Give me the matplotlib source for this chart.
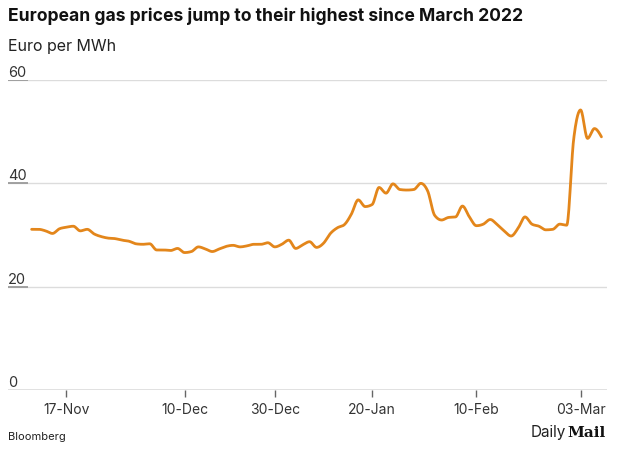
import numpy as np
import pandas as pd
import matplotlib
matplotlib.use("Agg")
import matplotlib.pyplot as plt
import matplotlib.transforms as mtransforms

# ---------------- data ----------------
holidays = ["2025-12-25", "2026-01-01"]
dates = [d for d in pd.bdate_range("2025-11-10", "2026-03-06") if d.strftime("%Y-%m-%d") not in holidays]
prices = [31.1, 31.1, 30.8, 30.3, 31.2, 31.5, 31.7, 30.8, 31.1, 30.2,
          29.7, 29.4, 29.3, 29.0, 28.8, 28.3, 28.2, 28.3, 27.1, 27.1,
          27.0, 27.4, 26.6, 26.8, 27.7, 27.3, 26.8, 27.3, 27.8, 28.0,
          27.7, 27.9, 28.2, 28.2, 28.5, 27.7, 28.2, 29.0, 27.4, 28.1,
          28.7, 27.6, 28.4, 30.3, 31.4, 32.0, 34.0, 36.8, 35.5, 35.9,
          39.2, 38.1, 39.9, 38.8, 38.7, 38.8, 40.0, 38.5, 33.8, 32.9,
          33.4, 33.5, 35.6, 33.5, 31.8, 32.1, 33.0, 32.0, 30.8, 29.8,
          31.3, 33.5, 32.1, 31.7, 31.0, 31.1, 32.1, 31.9, 48.5, 54.2,
          48.7, 50.6, 49.0]
tick_dates = ["2025-11-17", "2025-12-10", "2025-12-30", "2026-01-20", "2026-02-10", "2026-03-03"]
tick_labels = ["17-Nov", "10-Dec", "30-Dec", "20-Jan", "10-Feb", "03-Mar"]
y_ticks = [0, 20, 40, 60]

title = "European gas prices jump to their highest since March 2022"
subtitle = "Euro per MWh"
source = "Bloomberg"

# ---------------- helpers ----------------
def monotone_curve(x, y, n=16):
    x = np.asarray(x, float); y = np.asarray(y, float)
    h = np.diff(x); s = np.diff(y) / h
    m = np.zeros_like(y)
    for i in range(1, len(y) - 1):
        s0, s1 = s[i - 1], s[i]
        p = (s0 * h[i] + s1 * h[i - 1]) / (h[i - 1] + h[i])
        m[i] = (np.sign(s0) + np.sign(s1)) * min(abs(s0), abs(s1), 0.5 * abs(p))
    m[0] = (3 * s[0] - m[1]) / 2
    m[-1] = (3 * s[-1] - m[-2]) / 2
    xs, ys = [], []
    for i in range(len(x) - 1):
        t = np.linspace(0, 1, n, endpoint=False)
        h00 = 2 * t**3 - 3 * t**2 + 1
        h10 = t**3 - 2 * t**2 + t
        h01 = -2 * t**3 + 3 * t**2
        h11 = t**3 - t**2
        xs.append(x[i] + t * h[i])
        ys.append(h00 * y[i] + h10 * h[i] * m[i] + h01 * y[i + 1] + h11 * h[i] * m[i + 1])
    xs.append([x[-1]]); ys.append([y[-1]])
    return np.concatenate(xs), np.concatenate(ys)

date_str = [d.strftime("%Y-%m-%d") for d in dates]
idx = np.arange(len(dates))
tick_pos = [date_str.index(t) for t in tick_dates]

# ---------------- figure ----------------
plt.rcParams["font.family"] = ["Inter", "DejaVu Sans"]
fig = plt.figure(figsize=(6.17, 4.49), dpi=100)
ax = fig.add_axes([8 / 617, 59 / 449, 599 / 617, 310 / 449])
ax.set_xlim(-3.4, 82.8)
ax.set_ylim(0, 60)

for s in ax.spines.values():
    s.set_visible(False)

# grid lines
for v in y_ticks[1:]:
    ax.axhline(v, color="#dcdcdc", lw=1.0, zorder=1)
ax.axhline(0, color="#666666", lw=1.0, zorder=3)

trans = mtransforms.blended_transform_factory(ax.transAxes, ax.transData)
for v in y_ticks:
    ax.text(0, v, str(v), transform=trans, ha="left", va="bottom", fontsize=10.5,
            color="#333333")
    if v > 0:
        ax.plot([0, 20 / 599], [v, v], transform=trans, color="#9a9a9a", lw=1.3,
                zorder=2, solid_capstyle="butt")

cx, cy = monotone_curve(idx, prices)
ax.plot(cx, cy, color="#E3861B", lw=2.0, zorder=4, solid_capstyle="round",
        solid_joinstyle="round")

ax.set_yticks([])
ax.set_xticks(tick_pos)
ax.set_xticklabels(tick_labels)
ax.tick_params(axis="x", length=5, width=1, color="#666666", pad=4,
               labelsize=10, labelcolor="#333333")

fig.text(8 / 617, 1 - 16 / 449, title, fontsize=12.6, fontweight="bold",
         color="#111111", ha="left", va="center")
fig.text(8 / 617, 1 - 46 / 449, subtitle, fontsize=11.5, color="#222222",
         ha="left", va="center")
fig.text(8 / 617, 1 - 437 / 449, source, fontsize=8, color="#222222",
         ha="left", va="center")
fig.text(566 / 617, 1 - 433 / 449, "Daily", fontsize=11, color="#222222",
         ha="right", va="center")
fig.text(567 / 617, 1 - 433 / 449, "Mail", fontsize=11, fontweight="bold",
         family="DejaVu Serif", color="#111111", ha="left", va="center")

fig.savefig("out.png", dpi=100)
